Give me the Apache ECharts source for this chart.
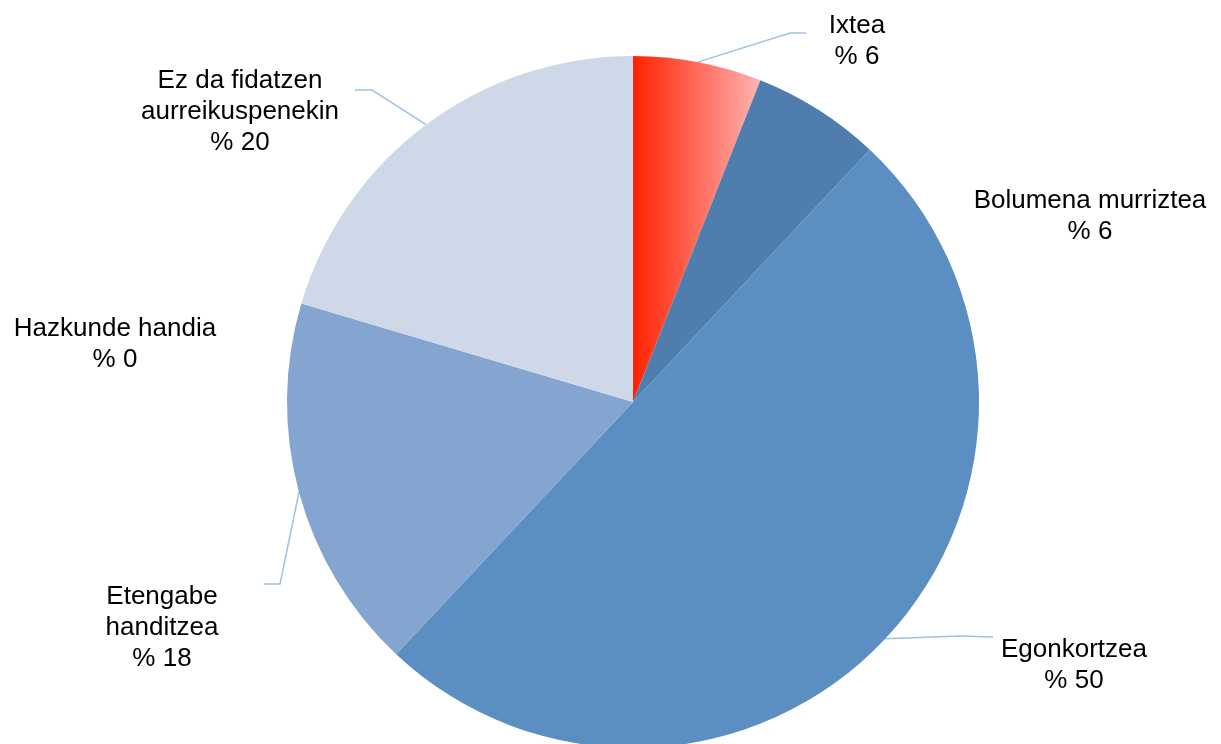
<!DOCTYPE html>
<html>
<head>
<meta charset="utf-8">
<script src="https://cdn.jsdelivr.net/npm/echarts@6/dist/echarts.min.js"></script>
<style>
html,body{margin:0;padding:0;background:#fff;}
#chart{width:1221px;height:744px;}
</style>
</head>
<body>
<div id="chart"></div>
<script>
var categories = ['Ixtea', 'Bolumena murriztea', 'Egonkortzea', 'Etengabe\nhanditzea', 'Hazkunde handia', 'Ez da fidatzen\naurreikuspenekin'];
var values = [6, 6, 50, 17.6, 0, 20.4];
var colors = [null, '#4f7eae', '#5b8ec1', '#84a5d0', '#84a5d0', '#cfd8e8'];
var showLine = [true, false, true, true, false, true];

// label placement (layout only)
var labelPos = [
  {x: 857, y: 41, line: [[790, 33], [806, 33]]},
  {x: 1090, y: 216},
  {x: 1074, y: 665, line: [[960, 636], [993, 637]]},
  {x: 162, y: 628, line: [[280, 584], [264, 584]]},
  {x: 115, y: 344},
  {x: 240, y: 112, line: [[372, 90], [355, 90]]}
];

var redGrad = new echarts.graphic.LinearGradient(0, 0, 1, 0, [
  {offset: 0, color: '#ff2200'},
  {offset: 1, color: '#ffb3b3'}
]);

var data = categories.map(function (c, i) {
  return {
    name: c,
    value: values[i],
    itemStyle: {color: i === 0 ? redGrad : colors[i]},
    labelLine: {show: showLine[i]}
  };
});

var chart = echarts.init(document.getElementById('chart'), null, {renderer: 'canvas'});
chart.setOption({
  animation: false,
  backgroundColor: '#fff',
  series: [{
    type: 'pie',
    center: [633, 402],
    radius: 346,
    startAngle: 90,
    clockwise: true,
    avoidLabelOverlap: false,
    data: data,
    itemStyle: {borderWidth: 0},
    label: {
      show: true,
      formatter: function (p) { return p.name + '\n% ' + Math.round(p.value); },
      color: '#000',
      fontFamily: 'Liberation Sans, Arial, sans-serif',
      fontSize: 26,
      lineHeight: 31,
      align: 'center'
    },
    labelLine: {
      show: true,
      lineStyle: {color: '#9dc3e6', width: 1.5}
    },
    labelLayout: function (params) {
      var lp = labelPos[params.dataIndex];
      var res = {x: lp.x, y: lp.y, align: 'center', verticalAlign: 'middle'};
      if (lp.line && params.labelLinePoints) {
        var p0 = params.labelLinePoints[0];
        res.labelLinePoints = [p0, lp.line[0], lp.line[1]];
      }
      return res;
    }
  }]
});
</script>
</body>
</html>
